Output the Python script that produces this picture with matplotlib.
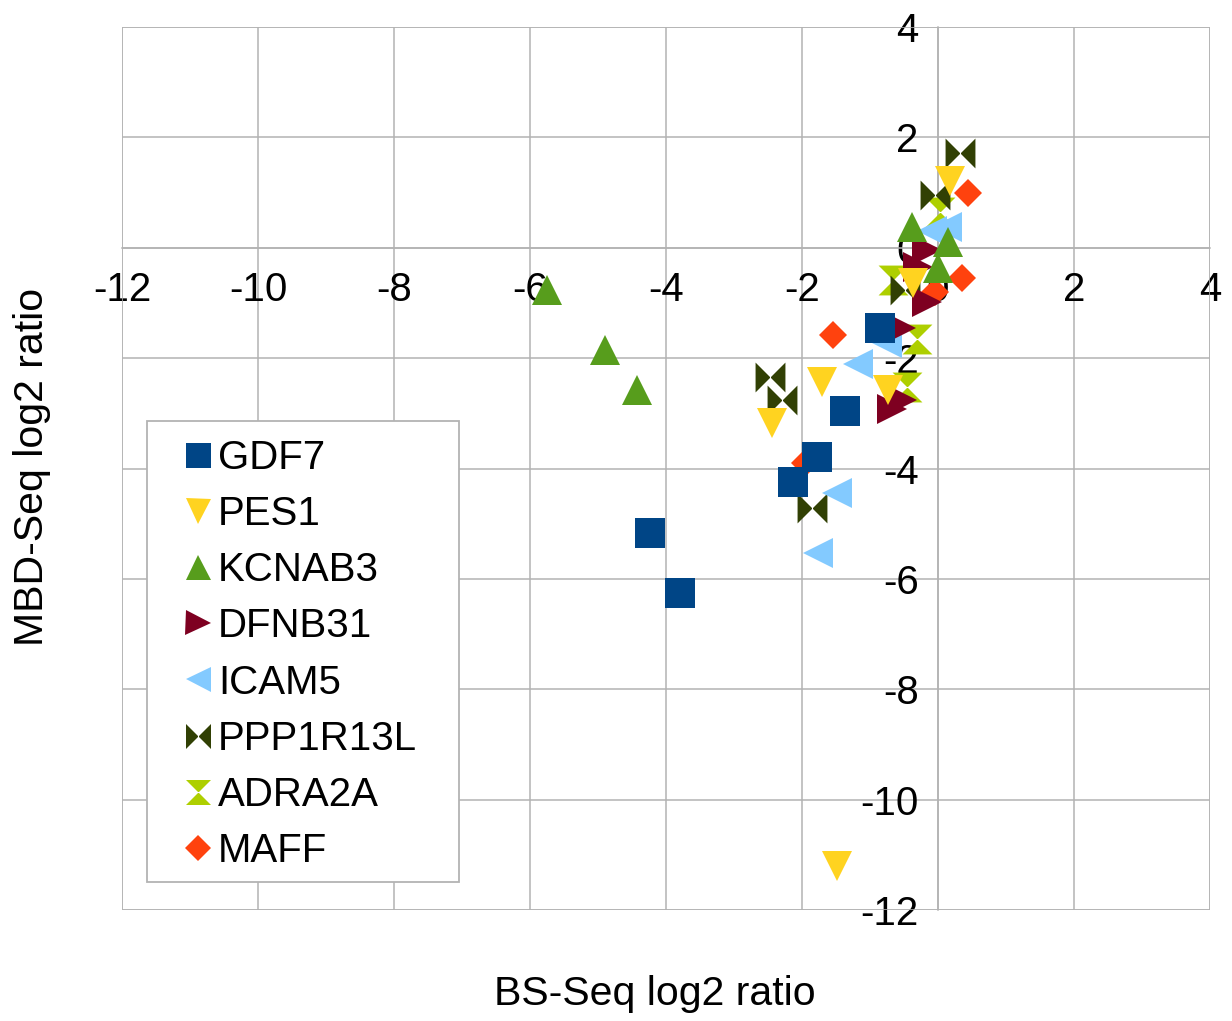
import matplotlib
matplotlib.use("Agg")
import matplotlib.pyplot as plt
from matplotlib.path import Path
from matplotlib.lines import Line2D
from matplotlib.patches import Rectangle

plt.rcParams['font.family'] = ['Liberation Sans', 'DejaVu Sans']
plt.rcParams['axes.unicode_minus'] = False

genes = ['GDF7', 'PES1', 'KCNAB3', 'DFNB31', 'ICAM5', 'PPP1R13L', 'ADRA2A', 'MAFF']

gdf7_x = [-0.85, -1.37, -1.78, -2.13, -4.24, -3.79]
gdf7_y = [-1.45, -2.95, -3.79, -4.24, -5.16, -6.25]
pes1_x = [0.18, -0.37, -0.74, -1.71, -2.44, -1.49]
pes1_y = [1.21, -0.63, -2.57, -2.43, -3.17, -11.21]
kcnab3_x = [-0.38, 0.15, 0.0, -5.75, -4.90, -4.43]
kcnab3_y = [0.38, 0.11, -0.36, -0.76, -1.85, -2.57]
dfnb31_x = [-0.16, -0.29, -0.16, -0.54, -0.53, -0.68]
dfnb31_y = [-0.04, -0.34, -0.98, -1.45, -2.75, -2.93]
icam5_x = [0.13, -0.09, -0.75, -1.18, -1.49, -1.76]
icam5_y = [0.38, 0.30, -1.72, -2.10, -4.44, -5.53]
ppp1r13l_x = [0.32, -0.04, -0.49, -2.47, -2.29, -1.85]
ppp1r13l_y = [1.72, 0.96, -0.76, -2.34, -2.75, -4.71]
adra2a_x = [0.03, -0.66, -0.31, -0.46]
adra2a_y = [0.65, -0.58, -1.65, -2.52]
maff_x = [0.44, 0.35, -0.04, -1.54, -1.96]
maff_y = [1.0, -0.54, -0.80, -1.58, -3.90]

xs = [gdf7_x, pes1_x, kcnab3_x, dfnb31_x, icam5_x, ppp1r13l_x, adra2a_x, maff_x]
ys = [gdf7_y, pes1_y, kcnab3_y, dfnb31_y, icam5_y, ppp1r13l_y, adra2a_y, maff_y]

colors = ['#004586', '#ffd320', '#579d1c', '#7e0021', '#83caff', '#314004', '#aecf00', '#ff420e']

# bowtie and hourglass shapes
bowtie = Path([(-1, -1), (-1, 1), (0, 0), (-1, -1), (1, -1), (1, 1), (0, 0), (1, -1)],
              [Path.MOVETO, Path.LINETO, Path.LINETO, Path.CLOSEPOLY,
               Path.MOVETO, Path.LINETO, Path.LINETO, Path.CLOSEPOLY])
hourglass = Path([(-1, 1), (1, 1), (0, 0), (-1, 1), (-1, -1), (1, -1), (0, 0), (-1, -1)],
                 [Path.MOVETO, Path.LINETO, Path.LINETO, Path.CLOSEPOLY,
                  Path.MOVETO, Path.LINETO, Path.LINETO, Path.CLOSEPOLY])
markers = ['s', 'v', '^', '>', '<', bowtie, hourglass, 'D']
sizes = [21.5, 21.5, 21.5, 21.5, 21.5, 21.5, 21.5, 14]
leg_sizes = [18, 18, 18, 18, 18, 18, 18, 13]

fig = plt.figure(figsize=(12.32, 10.21), dpi=100)
ax = fig.add_axes([122/1232, 1 - 910/1021, 1088/1232, 883/1021])

for i in range(len(genes)):
    ax.plot(xs[i], ys[i], linestyle='none', marker=markers[i], markersize=sizes[i],
            color=colors[i], markeredgewidth=0, zorder=2 + (len(genes) - i) * 0.01)

ax.set_xlim(-12, 4)
ax.set_ylim(-12, 4)
ax.set_xticks(range(-12, 5, 2))
ax.set_yticks(range(-12, 5, 2))
ax.grid(True, color='#b3b3b3', linewidth=1.1)
ax.set_axisbelow(True)

for s in ['top', 'right']:
    ax.spines[s].set_visible(False)
ax.spines['left'].set_position(('data', 0))
ax.spines['bottom'].set_position(('data', 0))
for s in ['left', 'bottom']:
    ax.spines[s].set_color('#b3b3b3')
    ax.spines[s].set_linewidth(1.1)
    ax.spines[s].set_zorder(1)
ax.tick_params(axis='both', length=0, labelsize=29, colors='black')
ax.tick_params(axis='x', pad=17)
ax.tick_params(axis='y', pad=14)
ax.add_patch(Rectangle((0, 0), 1, 1, transform=ax.transAxes, fill=False,
                       edgecolor='#b3b3b3', linewidth=1.1, zorder=1))

# legend box
ax.add_patch(Rectangle((25/1088, 28/883), 312/1088, 461/883, transform=ax.transAxes,
                       facecolor='white', edgecolor='#b3b3b3', linewidth=1.3, zorder=10))
handles = [Line2D([], [], linestyle='none', marker=markers[i], markersize=leg_sizes[i],
                  color=colors[i], markeredgewidth=0) for i in range(len(genes))]
leg = ax.legend(handles, genes, loc='upper left', bbox_to_anchor=(64/1088, 1 - 432/883 + 20/883),
                frameon=False, fontsize=29, handlelength=0.6, handletextpad=0.2,
                labelspacing=0.45, borderpad=0, borderaxespad=0)
leg.set_zorder(11)

fig.text(655/1232, 1 - 994/1021, 'BS-Seq log2 ratio', ha='center', va='center', fontsize=29.5)
fig.text(32/1232, 1 - 467/1021, 'MBD-Seq log2 ratio', ha='center', va='center',
         rotation=90, fontsize=29.5)

fig.savefig('out.png', dpi=100)
